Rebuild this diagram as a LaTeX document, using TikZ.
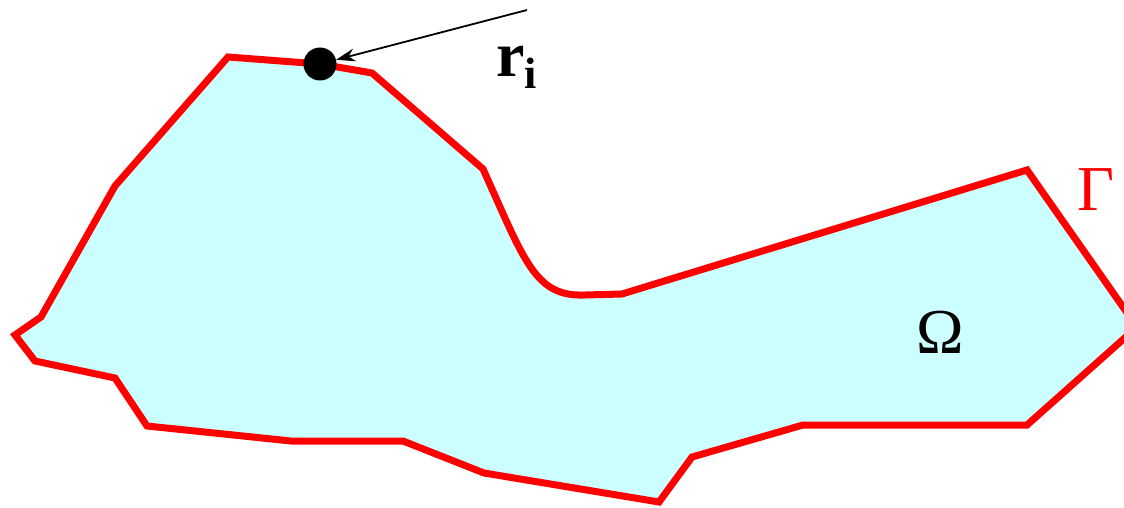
\documentclass[tikz,border=0pt]{standalone}
\usepackage{fontspec}
\setmainfont{Liberation Serif}
\usetikzlibrary{arrows.meta}
\definecolor{regionfill}{RGB}{204,255,255}
\definecolor{boundred}{RGB}{255,0,0}
\tikzset{
  boundary/.style={draw=boundred, fill=regionfill, line width=7pt, line join=miter},
  pointdot/.style={circle, fill=black, inner sep=0pt, minimum size=33pt},
  pointer/.style={draw=black, line width=1.8pt, -{Stealth[length=19pt,width=13pt]}},
  lbl/.style={inner sep=0pt, font=\fontsize{64}{72}\selectfont}
}
\begin{document}
\begin{tikzpicture}[x=1pt,y=-1pt]
\useasboundingbox (0,0) rectangle (1124,508);
\begin{scope}
\clip (0,0) rectangle (1124,508);
\draw[boundary] (228,57) -- (320,64) -- (372,73) -- (483,169)
  .. controls (525,262) and (535,297) .. (585,295) -- (622,294)
  -- (1027,170) -- (1137,327) -- (1027,425) -- (803,425) -- (692,457)
  -- (659,502) -- (484,473) -- (403,441) -- (291,441) -- (147,426)
  -- (115,378) -- (35,361) -- (15,335) -- (41,317) -- (115,186) -- cycle;
\end{scope}
\node[pointdot] (ri) at (320,64) {};
\coordinate (tail) at (527,10);
\draw[pointer] (tail) -- (ri);
\node[lbl, anchor=base west] (rlabel) at (496,77) {\textbf{r}\raisebox{-12pt}{\fontsize{44}{50}\selectfont\textbf{i}}};
\node[lbl, text=boundred, anchor=base] (gamma) at (1096,210) {Γ};
\node[lbl, anchor=base] (omega) at (940,353) {Ω};
\end{tikzpicture}
\end{document}
